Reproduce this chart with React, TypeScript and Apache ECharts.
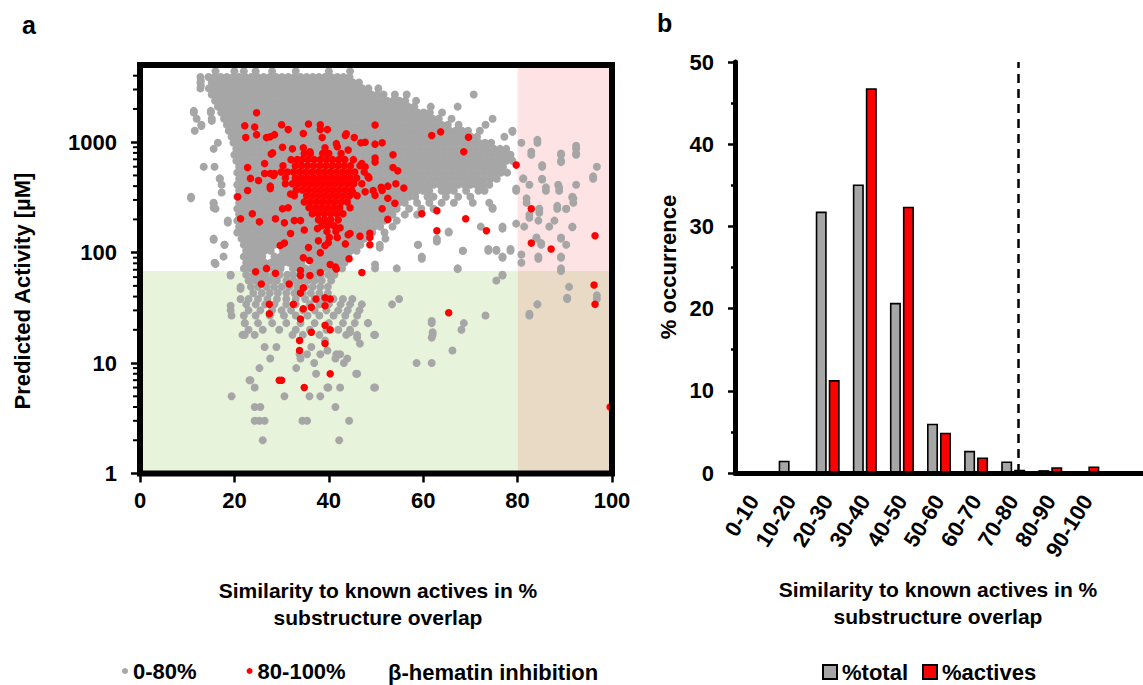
import React, { useEffect, useRef } from "react";
import * as echarts from "echarts";

const FONT = '"Liberation Sans", Arial, Helvetica, sans-serif';

// ---------- Panel a: scatter data ----------
const simMax = 100;
const simSplit = 80;
const actMin = 1;
const actMax = 5000;
const actSplit = 68;
const xTicks = { min: 0, max: 100, interval: 20 };
const minorTickValues = [2, 3, 4, 5, 6, 7, 8, 9, 20, 30, 40, 50, 60, 70, 80, 90, 200, 300, 400, 500, 600, 700, 800, 900, 2000, 3000, 4000];

// Gray (0-80% similarity) compounds, grouped by activity row: [activity, similarity values]
const grayRows: [number, number[]][] = [
  [4400, [16, 20, 22, 24.5, 28, 33, 40, 44.5]],
  [3900, [12.8, 14.5, 15.8, 17.1, 18.4, 19.7, 21, 22.3, 23.6, 24.9, 26.2, 27.5, 28.8, 30.1, 31.4, 32.7, 34, 35.3, 36.6, 37.9, 39.2, 40.5, 41.8, 43.1, 44.4]],
  [3470, [12.8, 15.2, 16.5, 17.8, 19.1, 20.4, 21.7, 23, 24.3, 25.6, 26.9, 28.2, 29.5, 30.8, 32.1, 33.4, 34.7, 36, 37.3, 38.6, 39.9, 41.2, 42.5, 43.8, 45.1, 46.4]],
  [3070, [12.8, 14.6, 15.9, 17.2, 18.5, 19.8, 21.1, 22.4, 23.7, 25, 26.3, 27.6, 28.9, 30.2, 31.5, 32.8, 34.1, 35.4, 36.7, 38, 39.3, 40.6, 41.9, 43.2, 44.5, 45.8, 47.1, 48.4, 50.5]],
  [2700, [15.2, 16.5, 17.8, 19.1, 20.4, 21.7, 23, 24.3, 25.6, 26.9, 28.2, 29.5, 30.8, 32.1, 33.4, 34.7, 36, 37.3, 38.6, 39.9, 41.2, 42.5, 43.8, 45.1, 46.4, 47.7, 49, 50.3, 51.6, 54, 56.5, 70.7]],
  [2370, [15.9, 17.2, 18.5, 19.8, 21.1, 22.4, 23.7, 25, 26.3, 27.6, 28.9, 30.2, 31.5, 32.8, 34.1, 35.4, 36.7, 38, 39.3, 40.6, 41.9, 43.2, 44.5, 45.8, 47.1, 48.4, 49.7, 51, 52.3, 53.6, 54.9, 56.2, 58.5]],
  [2100, [16.5, 17.8, 19.1, 20.4, 21.7, 23, 24.3, 25.6, 26.9, 28.2, 29.5, 30.8, 32.1, 33.4, 34.7, 36, 37.3, 38.6, 39.9, 41.2, 42.5, 43.8, 45.1, 46.4, 47.7, 49, 50.3, 51.6, 52.9, 54.2, 55.5, 56.8, 58.1, 61.6, 67.3]],
  [1860, [11.4, 15, 17.2, 18.5, 19.8, 21.1, 22.4, 23.7, 25, 26.3, 27.6, 28.9, 30.2, 31.5, 32.8, 34.1, 35.4, 36.7, 38, 39.3, 40.6, 41.9, 43.2, 44.5, 45.8, 47.1, 48.4, 49.7, 51, 52.3, 53.6, 54.9, 56.2, 57.5, 58.8, 60.1, 61.4, 64]],
  [1630, [12, 15.2, 17.8, 19.1, 20.4, 21.7, 23, 24.3, 25.6, 26.9, 28.2, 29.5, 30.8, 32.1, 33.4, 34.7, 36, 37.3, 38.6, 39.9, 41.2, 42.5, 43.8, 45.1, 46.4, 47.7, 49, 50.3, 51.6, 52.9, 54.2, 55.5, 56.8, 58.1, 59.4, 60.7, 62, 63.3, 66, 74.7]],
  [1440, [13, 18.4, 19.7, 21, 22.3, 23.6, 24.9, 26.2, 27.5, 28.8, 30.1, 31.4, 32.7, 34, 35.3, 36.6, 37.9, 39.2, 40.5, 41.8, 43.1, 44.4, 45.7, 47, 48.3, 49.6, 50.9, 52.2, 53.5, 54.8, 56.1, 57.4, 58.7, 60, 61.3, 62.6, 63.9, 65.2, 67.5, 73.2]],
  [1270, [11.6, 18.8, 20.1, 21.4, 22.7, 24, 25.3, 26.6, 27.9, 29.2, 30.5, 31.8, 33.1, 34.4, 35.7, 37, 38.3, 39.6, 40.9, 42.2, 43.5, 44.8, 46.1, 47.4, 48.7, 50, 51.3, 52.6, 53.9, 55.2, 56.5, 57.8, 59.1, 60.4, 61.7, 63, 64.3, 65.6, 66.9, 68.2, 69.5, 72, 78.9]],
  [1120, [19.4, 20.7, 22, 23.3, 24.6, 25.9, 27.2, 28.5, 29.8, 31.1, 32.4, 33.7, 35, 36.3, 37.6, 38.9, 40.2, 41.5, 42.8, 44.1, 45.4, 46.7, 48, 49.3, 50.6, 51.9, 53.2, 54.5, 55.8, 57.1, 58.4, 59.7, 61, 62.3, 63.6, 64.9, 66.2, 67.5, 68.8, 70.1, 71.4, 77.2]],
  [990, [16.5, 19.8, 21.1, 22.4, 23.7, 25, 26.3, 27.6, 28.9, 30.2, 31.5, 32.8, 34.1, 35.4, 36.7, 38, 39.3, 40.6, 41.9, 43.2, 44.5, 45.8, 47.1, 48.4, 49.7, 51, 52.3, 53.6, 54.9, 56.2, 57.5, 58.8, 60.1, 61.4, 62.7, 64, 65.3, 66.6, 67.9, 69.2, 70.5, 71.8, 73.1, 74.4, 80.8, 84.2]],
  [870, [15.6, 20.4, 21.7, 23, 24.3, 25.6, 26.9, 28.2, 29.5, 30.8, 32.1, 33.4, 34.7, 36, 37.3, 38.6, 39.9, 41.2, 42.5, 43.8, 45.1, 46.4, 47.7, 49, 50.3, 51.6, 52.9, 54.2, 55.5, 56.8, 58.1, 59.4, 60.7, 62, 63.3, 64.6, 65.9, 67.2, 68.5, 69.8, 71.1, 72.4, 73.7, 75, 76.3, 77.6, 92.4]],
  [770, [20, 21.3, 22.6, 23.9, 25.2, 26.5, 27.8, 29.1, 30.4, 31.7, 33, 34.3, 35.6, 36.9, 38.2, 39.5, 40.8, 42.1, 43.4, 44.7, 46, 47.3, 48.6, 49.9, 51.2, 52.5, 53.8, 55.1, 56.4, 57.7, 59, 60.3, 61.6, 62.9, 64.2, 65.5, 66.8, 68.1, 69.4, 70.7, 72, 73.3, 74.6, 75.9, 77.2, 78.5, 82.9, 89.2, 92.4]],
  [680, [20.4, 21.7, 23, 24.3, 25.6, 26.9, 28.2, 29.5, 30.8, 32.1, 33.4, 34.7, 36, 37.3, 38.6, 39.9, 41.2, 42.5, 43.8, 45.1, 46.4, 47.7, 49, 50.3, 51.6, 52.9, 54.2, 55.5, 56.8, 58.1, 59.4, 60.7, 62, 63.3, 64.6, 65.9, 67.2, 68.5, 69.8, 71.1, 72.4, 73.7, 75, 76.3, 77.6, 78.9, 89.2]],
  [600, [13.5, 15.8, 21, 22.3, 23.6, 24.9, 26.2, 27.5, 28.8, 30.1, 31.4, 32.7, 34, 35.3, 36.6, 37.9, 39.2, 40.5, 41.8, 43.1, 44.4, 45.7, 47, 48.3, 49.6, 50.9, 52.2, 53.5, 54.8, 56.1, 57.4, 58.7, 60, 61.3, 62.6, 63.9, 65.2, 66.5, 67.8, 69.1, 70.4, 71.7, 73, 74.3, 75.6, 76.9, 85.2, 96.8]],
  [530, [20.6, 21.9, 23.2, 24.5, 25.8, 27.1, 28.4, 29.7, 31, 32.3, 33.6, 34.9, 36.2, 37.5, 38.8, 40.1, 41.4, 42.7, 44, 45.3, 46.6, 47.9, 49.2, 50.5, 51.8, 53.1, 54.4, 55.7, 57, 58.3, 59.6, 60.9, 62.2, 63.5, 64.8, 66.1, 67.4, 68.7, 70, 71.3, 72.6, 73.9, 75.2, 76.5, 77.8]],
  [467, [16.9, 21, 22.3, 23.6, 24.9, 26.2, 27.5, 28.8, 30.1, 31.4, 32.7, 34, 35.3, 36.6, 37.9, 39.2, 40.5, 41.8, 43.1, 44.4, 45.7, 47, 48.3, 49.6, 50.9, 52.2, 53.5, 54.8, 56.1, 57.4, 58.7, 60, 61.3, 62.6, 63.9, 65.2, 66.5, 67.8, 69.1, 70.4, 71.7, 73, 74.3, 75.6, 81.2, 85.2, 96]],
  [412, [17.3, 20.6, 21.9, 23.2, 24.5, 25.8, 27.1, 28.4, 29.7, 31, 32.3, 33.6, 34.9, 36.2, 37.5, 38.8, 40.1, 41.4, 42.7, 44, 45.3, 46.6, 47.9, 49.2, 50.5, 51.8, 53.1, 54.4, 55.7, 57, 58.3, 59.6, 60.9, 62.2, 63.5, 64.8, 66.1, 67.4, 68.7, 70, 71.3, 72.6, 74, 82.5, 88.6, 92.4]],
  [364, [21, 22.3, 23.6, 24.9, 26.2, 27.5, 28.8, 30.1, 31.4, 32.7, 34, 35.3, 36.6, 37.9, 39.2, 40.5, 41.8, 43.1, 44.4, 45.7, 47, 48.3, 49.6, 50.9, 52.2, 53.5, 54.8, 56.1, 57.4, 58.7, 60, 61.3, 63.9, 65.2, 66.5, 69.1, 71.7, 73, 79.7, 86, 88.8]],
  [321, [10.8, 20.6, 21.9, 23.2, 24.5, 25.8, 27.1, 28.4, 29.7, 31, 32.3, 33.6, 34.9, 36.2, 37.5, 38.8, 40.1, 41.4, 42.7, 44, 45.3, 46.6, 47.9, 49.2, 50.5, 51.8, 53.1, 54.4, 55.7, 57, 58.3, 60.9, 62.2, 64.8, 67.4, 70, 91.6]],
  [283, [15.6, 21, 22.3, 23.6, 24.9, 26.2, 27.5, 28.8, 30.1, 31.4, 32.7, 34, 35.3, 36.6, 37.9, 39.2, 40.5, 41.8, 43.1, 44.4, 45.7, 47, 48.3, 49.6, 50.9, 52.2, 53.5, 54.8, 56.1, 58.7, 61.3, 63.9, 66.5, 70.5, 74, 81.9, 91.8]],
  [250, [16, 20.6, 21.9, 23.2, 24.5, 25.8, 27.1, 28.4, 29.7, 31, 32.3, 33.6, 34.9, 36.2, 37.5, 38.8, 40.1, 41.4, 42.7, 44, 45.3, 46.6, 47.9, 49.2, 50.5, 51.8, 53.1, 54.4, 57, 59.6, 62.2, 74.7, 84.6, 88.4, 90.3]],
  [221, [21, 22.3, 23.6, 24.9, 26.2, 27.5, 28.8, 30.1, 31.4, 32.7, 34, 35.3, 36.6, 37.9, 39.2, 40.5, 41.8, 43.1, 44.4, 45.7, 47, 48.3, 49.6, 50.9, 52.2, 53.5, 56.1, 58.7, 82.5]],
  [195, [18.6, 20.6, 21.9, 23.2, 24.5, 25.8, 27.1, 28.4, 29.7, 31, 32.3, 33.6, 34.9, 36.2, 37.5, 38.8, 40.1, 41.4, 42.7, 44, 45.3, 46.6, 47.9, 49.2, 50.5, 51.8, 54.4, 84.4, 87.8]],
  [172, [21, 22.3, 23.6, 24.9, 26.2, 27.5, 28.8, 30.1, 31.4, 32.7, 34, 35.3, 36.6, 37.9, 39.2, 40.5, 41.8, 43.1, 44.4, 45.7, 47, 48.3, 49.6, 50.9, 53.5, 72.2, 76.8, 81.4, 86.7, 91.6]],
  [152, [20.6, 21.9, 23.2, 24.5, 25.8, 27.1, 28.4, 29.7, 31, 32.3, 33.6, 34.9, 36.2, 37.5, 38.8, 40.1, 41.4, 42.7, 44, 45.3, 46.6, 47.9, 49.2, 51.8, 65.4]],
  [134, [15.6, 21.5, 22.8, 24.1, 25.4, 26.7, 28, 29.3, 30.6, 31.9, 33.2, 34.5, 35.8, 37.1, 38.4, 39.7, 41, 42.3, 43.6, 44.9, 46.2, 47.5, 52, 62.9, 84, 89.2]],
  [118, [17.9, 22, 23.3, 24.6, 25.9, 27.2, 28.5, 29.8, 31.1, 32.4, 33.7, 35, 36.3, 37.6, 38.9, 40.2, 41.5, 42.8, 44.1, 45.4, 46.7, 50.8, 58.9, 85, 90.3]],
  [104, [22.5, 23.8, 25.1, 26.4, 27.7, 30.3, 31.6, 32.9, 34.2, 35.5, 36.8, 38.1, 39.4, 40.7, 42, 43.3, 44.6, 45.9, 68.4, 73.8, 75.5, 78.5]],
  [92, [17.7, 22, 23.3, 24.6, 25.9, 28.5, 29.8, 31.1, 32.4, 33.7, 35, 36.3, 37.6, 38.9, 40.2, 41.5, 42.8, 44.1, 59.7, 76.8, 84.4, 89.2]],
  [81, [15.8, 22.5, 23.8, 25.1, 26.4, 27.7, 29, 30.3, 31.6, 32.9, 34.2, 36.8, 38.1, 39.4, 40.7, 42, 43.3, 80.8]],
  [72, [22, 23.3, 24.6, 25.9, 27.2, 28.5, 29.8, 32.4, 33.7, 35, 36.3, 37.6, 38.9, 40.2, 41.5, 42.8, 49.8, 54.4, 67.3, 89.2]],
  [63, [19.2, 22.5, 24.1, 25.4, 26.7, 28.3, 29.6, 31.2, 32.5, 34.1, 35.4, 37, 38.3, 39.9, 41.2, 76.8]],
  [56, [23, 24.5, 26, 27.5, 29, 31, 32.5, 34, 35.5, 37, 38.5, 40.5, 75.5]],
  [49, [21.3, 23.5, 25, 26.8, 28.4, 30, 31.6, 33.3, 35, 36.6, 38.2, 39.8, 90.9]],
  [43, [24, 25.8, 27.5, 29.2, 31, 32.7, 34.5, 36.2, 38, 39.8]],
  [38, [21.3, 23, 25, 27, 29, 31, 33, 35, 37, 39, 41, 43, 45, 54.9, 90.5, 96.8]],
  [34, [22.5, 24.5, 26.5, 28.5, 31, 33, 36, 38, 40, 42.5, 44.5, 47, 53.4, 84.2]],
  [30, [19.2, 23, 25.5, 28, 30, 32, 34.5, 37, 39.5, 42, 44, 46.5]],
  [27, [19.4, 22, 24.5, 27.5, 30.5, 33, 35.5, 38, 41, 43.5, 46, 73.2, 82.5]],
  [23, [22.2, 25, 28, 31, 34, 37, 40, 43, 45.5, 48.3, 61.8, 68.6]],
  [20, [23, 26, 29.5, 33, 36, 39.5, 42, 44.5, 68.1]],
  [18, [21.7, 22.2, 24.3, 32.3, 34.5, 38, 43.7, 46, 49.6, 62]],
  [17, [61.8]],
  [16, [39.2]],
  [15, [46.6]],
  [14, [26.4, 28.9, 36.3]],
  [13, [39.7, 66.2]],
  [12, [33.8, 35.4, 38.2, 41.6, 42.4]],
  [11, [27.6, 34, 41.4, 43.9]],
  [10, [36.9, 43.2, 58.6, 61.8]],
  [9, [25.3, 33.1]],
  [8, [37.3, 45.8, 46]],
  [7, [23.2, 23.4]],
  [6, [24.3, 39.7, 39.9, 42.4, 49.6, 49.8]],
  [5, [19.4, 30.6, 35.9, 38.2]],
  [4, [24.3, 25.5, 41.4]],
  [3, [24.3, 25.3, 26.4, 34.4, 35.4, 44.3]],
  [2, [26, 42.2]],
];

// Extra gray compounds read individually: [similarity, activity]
const graySingles: [number, number][] = [
  [12.9, 3600], [12.9, 3250], [11.4, 1920], [13, 1400], [15, 1920], [15.2, 1560], [16.9, 470],
  [17.3, 350], [10.8, 310], [15.6, 280], [15.6, 255], [18.6, 187], [15.6, 131], [17.9, 118],
  [16, 79], [19.2, 62], [21.3, 47], [19.2, 33], [22.2, 23],
  [78.9, 1240], [84.2, 1050], [92.4, 930], [89.2, 790], [92.4, 790], [96, 490], [85.2, 620],
  [89.2, 660], [82.9, 820], [81.2, 470], [85.2, 460], [86, 390], [88.8, 390], [79.7, 380],
  [91.6, 315], [81.9, 310], [84.6, 230], [88.4, 265], [91.8, 310], [90.3, 250], [91.6, 170],
  [82.5, 207], [79.7, 183], [84, 137], [85, 122], [89.2, 137], [89.2, 90], [89.2, 68],
  [84.4, 88], [80.8, 96], [90.5, 39], [96.8, 41], [84.2, 34], [82.5, 28], [76.8, 62],
  [78.5, 108], [76.8, 90], [75.5, 106], [73.8, 108], [76.8, 165], [74.7, 255], [68.4, 104],
  [67.3, 71], [59.7, 88], [58.9, 118], [62.9, 126], [65.4, 155], [50.8, 111], [49.8, 78],
  [61.8, 24], [62, 19], [49.8, 18], [48.3, 23], [44.5, 19], [46, 17],
];

// Red (80-100% β-hematin inhibition) compounds, dense core grouped by activity row
const redRows: [number, number[]][] = [
  [790, [34.8, 36.1, 38.7, 40, 42.6]],
  [695, [32, 33.3, 34.3, 35.6, 36.9, 38.2, 39.5, 40.8, 42.1, 43.4, 45.2]],
  [612, [30.3, 32.9, 34.2, 35.5, 36.8, 38.1, 39.4, 40.7, 42, 43.3, 44.6, 46.6]],
  [537, [29.9, 31.2, 32.5, 33.8, 35.1, 36.4, 37.7, 39, 40.3, 41.6, 42.9, 44.2, 45.5, 47.5]],
  [475, [30.8, 32.9, 34.2, 35.5, 36.8, 38.1, 39.4, 40.7, 42, 43.3, 44.6, 45.9, 48.5]],
  [420, [32.3, 33.6, 34.9, 36.2, 37.5, 38.8, 40.1, 41.4, 42.7, 44, 45.3, 47]],
  [370, [33.1, 34.4, 35.7, 37, 38.3, 39.6, 40.9, 42.2, 43.5, 44.8]],
  [327, [32.7, 35.3, 36.6, 37.9, 39.2, 40.5, 41.8, 43.1, 44.4, 46]],
  [288, [34.8, 36.1, 37.4, 38.7, 40, 41.3, 42.6, 43.9]],
  [255, [35.8, 37.1, 38.4, 39.7, 41, 42.3, 44.5]],
  [225, [36.5, 37.8, 39.1, 40.4, 41.7, 43]],
  [198, [37.8, 39.1, 40.4, 42]],
  [175, [38.5, 39.8, 41.1]],
  [155, [39.6, 41.5]],
];

const redSingles: [number, number][] = [
  [24.7, 1850], [22.2, 1410], [24.3, 1370], [22.4, 1100], [24.7, 1170], [26.8, 1100], [27.6, 1120],
  [28.5, 1170], [30, 1440], [31.4, 1300], [35.7, 1460], [34.6, 1200], [38.2, 1440], [38.2, 1300],
  [39.7, 1300], [38.6, 1100], [43.5, 1150], [45.4, 1100], [46.8, 990], [43.7, 1190], [41.6, 970],
  [41.8, 910], [47.7, 1000], [30.2, 900], [32.3, 870], [34.6, 890], [36, 820], [39.2, 890],
  [44.1, 850], [28.1, 800], [27.8, 780], [26.4, 640], [22.8, 590], [47, 640], [47.7, 600],
  [48.3, 490], [27.6, 520], [26.4, 520], [28.5, 520], [28.3, 500], [23.4, 470], [25.1, 450],
  [27.6, 400], [27.6, 380], [30.8, 420], [31.9, 340], [22.8, 365], [20.7, 320], [21.3, 203],
  [23.8, 225], [25.3, 190], [28.7, 203], [30.2, 250], [31.4, 255], [30.6, 186], [32.7, 195],
  [34, 195], [34.8, 160], [29.7, 116], [30.6, 122], [31.9, 149], [35.7, 111], [34.6, 90],
  [35.9, 85], [38.2, 100], [40.1, 137], [39.2, 116], [37.8, 128], [39.9, 123], [41.8, 137],
  [42.4, 168], [37.6, 165], [44.1, 145], [44.5, 149], [43.5, 120], [46.6, 141], [48.7, 137],
  [48.7, 118], [44.3, 88], [40.3, 78], [41.4, 74], [41.6, 71], [47, 66], [38.2, 66], [36, 62],
  [34, 62], [34, 69], [24.5, 67], [26.8, 72], [28.7, 65], [25.7, 52], [31.6, 52], [34.6, 48],
  [34, 43], [37.3, 38], [39.2, 39], [40.3, 38], [39.2, 33], [36.3, 32], [34.6, 31], [32.5, 34],
  [27.4, 34], [27.4, 28], [34, 25], [39.2, 22], [40.3, 20], [36.3, 19], [33.8, 16], [33.8, 13],
  [39.2, 15], [29.5, 7], [30, 7], [34.8, 6], [40.3, 8],
  [49.8, 1430], [49.8, 960], [51.3, 990], [49.8, 720], [49.8, 660], [53.6, 770], [53.6, 590],
  [54.6, 550], [49.4, 365], [51.3, 365], [52.5, 400], [54.2, 420], [55.9, 385], [51.1, 390],
  [45.1, 350], [47.7, 355], [61.8, 1150], [63.7, 1240], [69.6, 1110], [68.6, 820], [79.7, 620],
  [49.8, 330], [52.5, 310], [54, 280], [51.3, 250], [52.5, 200], [59.7, 225], [62.9, 240],
  [69, 203], [62.9, 158], [73.4, 158], [82.9, 250], [82.9, 122], [87.1, 108], [96.4, 142],
  [96.2, 51], [96.4, 34], [65.4, 28.5], [48.7, 150], [99.6, 4],
];

// ---------- Panel b: histogram ----------
const binLabels = ["0-10", "10-20", "20-30", "30-40", "40-50", "50-60", "60-70", "70-80", "80-90", "90-100", ""];
const pctTotal = [0, 1.5, 31.8, 35.1, 20.7, 6.0, 2.7, 1.4, 0.35, 0.1];
const pctActives = [0, 0, 11.3, 46.8, 32.4, 4.9, 1.9, 0.4, 0.7, 0.8];
const yTicksB = { min: 0, max: 50, interval: 10 };
const cutoffPosition = 76.3; // dashed cut-off line, on a 0-110 scale across the bins

const grayData = grayRows.flatMap(([y, xs]) => xs.map((x) => [x, y])).concat(graySingles);
const redData = redRows.flatMap(([y, xs]) => xs.map((x) => [x, y])).concat(redSingles);

const bold = (size: number) => ({ fontFamily: FONT, fontWeight: "bold" as const, fontSize: size, color: "#000" });

export default function App() {
  const ref = useRef<HTMLDivElement>(null);
  useEffect(() => {
    if (!ref.current) return;
    const chart = echarts.init(ref.current, null, { renderer: "svg" });
    const option: any = {
      animation: false,
      backgroundColor: "#fff",
      grid: [
        { left: 140, top: 65, width: 472, height: 408.5, show: true, z: 10, backgroundColor: "transparent", borderColor: "#000", borderWidth: 6 },
        { left: 735, top: 62, width: 413.6, height: 411 },
      ],
      xAxis: [
        {
          gridIndex: 0, type: "value", min: xTicks.min, max: xTicks.max, interval: xTicks.interval, z: 11,
          axisLine: { show: false },
          axisTick: { show: true, length: 9, lineStyle: { color: "#000", width: 2.5 } },
          axisLabel: { ...bold(22), margin: 16 },
          splitLine: { show: false },
        },
        {
          gridIndex: 1, type: "category", data: binLabels, z: 11,
          axisLine: { lineStyle: { color: "#000", width: 5 } },
          axisTick: { length: 7, lineStyle: { color: "#000", width: 2.5 } },
          axisLabel: { ...bold(22), rotate: 58, interval: 0, margin: 24 },
        },
        { gridIndex: 1, type: "value", min: 0, max: 110, show: false },
      ],
      yAxis: [
        {
          gridIndex: 0, type: "log", logBase: 10, min: actMin, max: actMax, z: 11,
          axisLine: { show: false },
          axisTick: { show: true, length: 9, lineStyle: { color: "#000", width: 2.5 } },
          axisLabel: {
            ...bold(22), margin: 23, showMaxLabel: false,
            formatter: (v: number) => (Math.abs(Math.log10(v) - Math.round(Math.log10(v))) < 1e-6 ? String(v) : ""),
          },
          splitLine: { show: false },
          minorTick: { show: false },
        },
        {
          gridIndex: 1, type: "value", min: yTicksB.min, max: yTicksB.max, interval: yTicksB.interval, z: 11,
          axisLine: { show: true, lineStyle: { color: "#000", width: 5 } },
          axisTick: { show: true, length: 7, lineStyle: { color: "#000", width: 2.5 } },
          minorTick: { show: true, splitNumber: 2, length: 4, lineStyle: { color: "#000", width: 2.5 } },
          axisLabel: { ...bold(22), margin: 21 },
          splitLine: { show: false },
        },
      ],
      legend: [
        {
          data: ["0-80%", "80-100%"], left: 122, top: 660, padding: 0, itemGap: 50,
          icon: "circle", itemWidth: 6, itemHeight: 6, textStyle: bold(22),
        },
        {
          data: ["%total", "%actives"], left: 822, top: 661, padding: 0, itemGap: 14,
          icon: "rect", itemWidth: 14, itemHeight: 14, textStyle: bold(22),
          itemStyle: { borderColor: "#000", borderWidth: 2 },
        },
      ],
      graphic: [
        { type: "text", x: 22, y: 12, style: { text: "a", font: `bold 25px ${FONT}`, fill: "#000" } },
        { type: "text", x: 657, y: 10, style: { text: "b", font: `bold 25px ${FONT}`, fill: "#000" } },
        { type: "text", x: 22, y: 291, rotation: Math.PI / 2, style: { text: "Predicted Activity [µM]", font: `bold 22px ${FONT}`, fill: "#000", align: "center", verticalAlign: "middle" } },
        { type: "text", x: 378, y: 604, style: { text: "Similarity to known actives in %\nsubstructure overlap", font: `bold 21px ${FONT}`, lineHeight: 27, fill: "#000", align: "center", verticalAlign: "middle" } },
        { type: "text", x: 388, y: 672, style: { text: "β-hematin inhibition", font: `bold 22px ${FONT}`, fill: "#000", align: "left", verticalAlign: "middle" } },
        { type: "text", x: 668, y: 267, rotation: Math.PI / 2, style: { text: "% occurrence", font: `bold 22px ${FONT}`, fill: "#000", align: "center", verticalAlign: "middle" } },
        { type: "text", x: 938, y: 603, style: { text: "Similarity to known actives in %\nsubstructure overlap", font: `bold 21px ${FONT}`, lineHeight: 27, fill: "#000", align: "center", verticalAlign: "middle" } },
      ],
      series: [
        {
          type: "line", xAxisIndex: 0, yAxisIndex: 0, data: [], silent: true, z: 1,
          markArea: {
            silent: true,
            data: [
              [{ xAxis: 0, yAxis: actMin, itemStyle: { color: "#e8f3dc" } }, { xAxis: simSplit, yAxis: actSplit }],
              [{ xAxis: simSplit, yAxis: actSplit, itemStyle: { color: "#fee3e5" } }, { xAxis: simMax, yAxis: actMax }],
              [{ xAxis: simSplit, yAxis: actMin, itemStyle: { color: "#e8dac5" } }, { xAxis: simMax, yAxis: actSplit }],
            ],
          },
        },
        {
          name: "0-80%", type: "scatter", xAxisIndex: 0, yAxisIndex: 0, data: grayData, z: 3,
          symbol: "circle", symbolSize: 8, itemStyle: { color: "#a6a6a6", opacity: 1 }, progressive: 0, silent: true,
        },
        {
          name: "80-100%", type: "scatter", xAxisIndex: 0, yAxisIndex: 0, data: redData, z: 4,
          symbol: "circle", symbolSize: 7.5, itemStyle: { color: "#ff0000", opacity: 1 }, progressive: 0, silent: true,
        },
        {
          type: "custom", xAxisIndex: 0, yAxisIndex: 0, z: 12, silent: true, clip: false,
          data: minorTickValues.map((v) => [0, v]),
          renderItem: (_p: any, api: any) => {
            const pt = api.coord([api.value(0), api.value(1)]);
            return { type: "line", shape: { x1: pt[0] - 7, y1: pt[1], x2: pt[0] - 2, y2: pt[1] }, style: { stroke: "#000", lineWidth: 2 } };
          },
        },
        {
          name: "%total", type: "bar", xAxisIndex: 1, yAxisIndex: 1, data: pctTotal, barWidth: 11, barGap: "18%",
          itemStyle: { color: "#a6a6a6", borderColor: "#000", borderWidth: 1.6 }, z: 3,
        },
        {
          name: "%actives", type: "bar", xAxisIndex: 1, yAxisIndex: 1, data: pctActives, barWidth: 11, barGap: "18%",
          itemStyle: { color: "#ff0000", borderColor: "#000", borderWidth: 1.6 }, z: 3,
        },
        {
          type: "line", xAxisIndex: 2, yAxisIndex: 1, data: [], silent: true, z: 5,
          markLine: {
            silent: true, symbol: ["none", "none"], label: { show: false },
            lineStyle: { color: "#000", width: 2.5, type: [9, 6] },
            data: [{ xAxis: cutoffPosition }],
          },
        },
      ],
    };
    chart.setOption(option);
    return () => chart.dispose();
  }, []);
  return <div ref={ref} style={{ position: "fixed", left: 0, top: 0, width: 1143, height: 685, background: "#fff" }} />;
}
